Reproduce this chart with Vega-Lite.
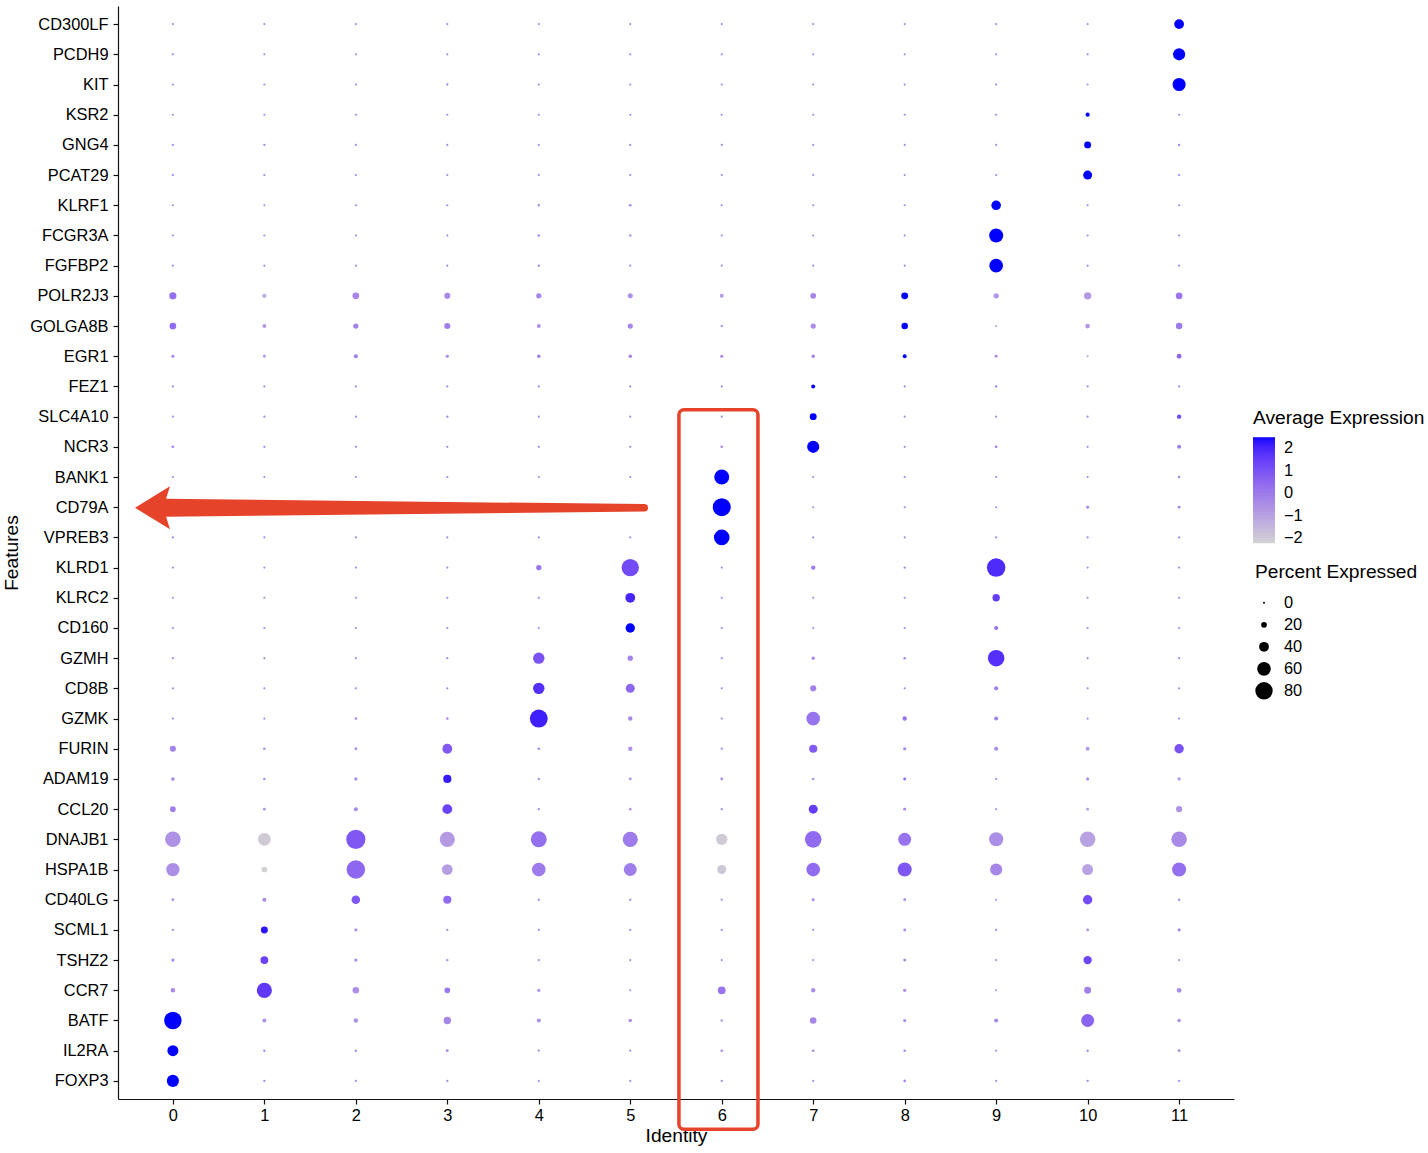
{
"$schema":"https://vega.github.io/schema/vega-lite/v6.json",
"autosize":{"type":"none"},
"padding":{"left":118,"top":6,"right":194,"bottom":54},
"width":1116,"height":1093,
"background":"white",
"config":{"font":"Liberation Sans","view":{"stroke":null},
"axis":{"domainColor":"#111","domainWidth":1.2,"tickColor":"#111","tickWidth":1.2,"tickSize":5,"labelColor":"#000","labelFontSize":16.4,"labelFont":"Liberation Sans","titleFont":"Liberation Sans","titleFontSize":19.2,"titleFontWeight":"normal","titleColor":"#000","grid":false,"labelPadding":4},
"legend":{"titleFont":"Liberation Sans","titleFontSize":19.2,"titleFontWeight":"normal","titleColor":"#000","labelFont":"Liberation Sans","labelFontSize":16.4,"labelColor":"#000"}},
"datasets":{
"dots":[
{"gene":"CD300LF","cluster":0,"pct":2,"avg":-0.3},{"gene":"CD300LF","cluster":1,"pct":2,"avg":-0.3},{"gene":"CD300LF","cluster":2,"pct":2,"avg":-0.3},{"gene":"CD300LF","cluster":3,"pct":2,"avg":-0.3},{"gene":"CD300LF","cluster":4,"pct":2,"avg":-0.3},{"gene":"CD300LF","cluster":5,"pct":2,"avg":-0.3},{"gene":"CD300LF","cluster":6,"pct":2,"avg":-0.3},{"gene":"CD300LF","cluster":7,"pct":2,"avg":-0.3},{"gene":"CD300LF","cluster":8,"pct":2,"avg":-0.3},{"gene":"CD300LF","cluster":9,"pct":2,"avg":-0.3},{"gene":"CD300LF","cluster":10,"pct":2,"avg":-0.3},{"gene":"CD300LF","cluster":11,"pct":40,"avg":2.5},
{"gene":"PCDH9","cluster":0,"pct":2,"avg":-0.3},{"gene":"PCDH9","cluster":1,"pct":2,"avg":-0.3},{"gene":"PCDH9","cluster":2,"pct":2,"avg":-0.3},{"gene":"PCDH9","cluster":3,"pct":2,"avg":-0.3},{"gene":"PCDH9","cluster":4,"pct":2,"avg":-0.3},{"gene":"PCDH9","cluster":5,"pct":2,"avg":-0.3},{"gene":"PCDH9","cluster":6,"pct":2,"avg":-0.3},{"gene":"PCDH9","cluster":7,"pct":2,"avg":-0.3},{"gene":"PCDH9","cluster":8,"pct":2,"avg":-0.3},{"gene":"PCDH9","cluster":9,"pct":2,"avg":-0.3},{"gene":"PCDH9","cluster":10,"pct":2,"avg":-0.3},{"gene":"PCDH9","cluster":11,"pct":52,"avg":2.5},
{"gene":"KIT","cluster":0,"pct":2,"avg":-0.3},{"gene":"KIT","cluster":1,"pct":2,"avg":-0.3},{"gene":"KIT","cluster":2,"pct":2,"avg":-0.3},{"gene":"KIT","cluster":3,"pct":3,"avg":-0.3},{"gene":"KIT","cluster":4,"pct":2,"avg":-0.3},{"gene":"KIT","cluster":5,"pct":2,"avg":-0.3},{"gene":"KIT","cluster":6,"pct":2,"avg":-0.3},{"gene":"KIT","cluster":7,"pct":2,"avg":-0.3},{"gene":"KIT","cluster":8,"pct":2,"avg":-0.3},{"gene":"KIT","cluster":9,"pct":2,"avg":-0.3},{"gene":"KIT","cluster":10,"pct":2,"avg":-0.3},{"gene":"KIT","cluster":11,"pct":57,"avg":2.5},
{"gene":"KSR2","cluster":0,"pct":2,"avg":-0.3},{"gene":"KSR2","cluster":1,"pct":2,"avg":-0.3},{"gene":"KSR2","cluster":2,"pct":2,"avg":-0.3},{"gene":"KSR2","cluster":3,"pct":2,"avg":-0.3},{"gene":"KSR2","cluster":4,"pct":2,"avg":-0.3},{"gene":"KSR2","cluster":5,"pct":2,"avg":-0.3},{"gene":"KSR2","cluster":6,"pct":2,"avg":-0.3},{"gene":"KSR2","cluster":7,"pct":2,"avg":-0.3},{"gene":"KSR2","cluster":8,"pct":2,"avg":-0.3},{"gene":"KSR2","cluster":9,"pct":2,"avg":-0.3},{"gene":"KSR2","cluster":10,"pct":13,"avg":2.5},{"gene":"KSR2","cluster":11,"pct":2,"avg":-0.3},
{"gene":"GNG4","cluster":0,"pct":2,"avg":-0.3},{"gene":"GNG4","cluster":1,"pct":2,"avg":-0.3},{"gene":"GNG4","cluster":2,"pct":2,"avg":-0.3},{"gene":"GNG4","cluster":3,"pct":2,"avg":-0.3},{"gene":"GNG4","cluster":4,"pct":2,"avg":-0.3},{"gene":"GNG4","cluster":5,"pct":2,"avg":-0.3},{"gene":"GNG4","cluster":6,"pct":2,"avg":-0.3},{"gene":"GNG4","cluster":7,"pct":2,"avg":-0.3},{"gene":"GNG4","cluster":8,"pct":2,"avg":-0.3},{"gene":"GNG4","cluster":9,"pct":2,"avg":-0.3},{"gene":"GNG4","cluster":10,"pct":26,"avg":2.5},{"gene":"GNG4","cluster":11,"pct":4,"avg":-0.3},
{"gene":"PCAT29","cluster":0,"pct":2,"avg":-0.3},{"gene":"PCAT29","cluster":1,"pct":2,"avg":-0.3},{"gene":"PCAT29","cluster":2,"pct":2,"avg":-0.3},{"gene":"PCAT29","cluster":3,"pct":2,"avg":-0.3},{"gene":"PCAT29","cluster":4,"pct":3,"avg":-0.3},{"gene":"PCAT29","cluster":5,"pct":3,"avg":-0.3},{"gene":"PCAT29","cluster":6,"pct":2,"avg":-0.3},{"gene":"PCAT29","cluster":7,"pct":2,"avg":-0.3},{"gene":"PCAT29","cluster":8,"pct":2,"avg":-0.3},{"gene":"PCAT29","cluster":9,"pct":2,"avg":-0.3},{"gene":"PCAT29","cluster":10,"pct":36,"avg":2.5},{"gene":"PCAT29","cluster":11,"pct":2,"avg":-0.3},
{"gene":"KLRF1","cluster":0,"pct":2,"avg":-0.3},{"gene":"KLRF1","cluster":1,"pct":2,"avg":-0.3},{"gene":"KLRF1","cluster":2,"pct":2,"avg":-0.3},{"gene":"KLRF1","cluster":3,"pct":2,"avg":-0.3},{"gene":"KLRF1","cluster":4,"pct":4,"avg":-0.3},{"gene":"KLRF1","cluster":5,"pct":5,"avg":-0.2},{"gene":"KLRF1","cluster":6,"pct":2,"avg":-0.3},{"gene":"KLRF1","cluster":7,"pct":2,"avg":-0.3},{"gene":"KLRF1","cluster":8,"pct":2,"avg":-0.3},{"gene":"KLRF1","cluster":9,"pct":39,"avg":2.5},{"gene":"KLRF1","cluster":10,"pct":2,"avg":-0.3},{"gene":"KLRF1","cluster":11,"pct":2,"avg":-0.3},
{"gene":"FCGR3A","cluster":0,"pct":2,"avg":-0.3},{"gene":"FCGR3A","cluster":1,"pct":2,"avg":-0.3},{"gene":"FCGR3A","cluster":2,"pct":2,"avg":-0.3},{"gene":"FCGR3A","cluster":3,"pct":2,"avg":-0.3},{"gene":"FCGR3A","cluster":4,"pct":5,"avg":-0.3},{"gene":"FCGR3A","cluster":5,"pct":4,"avg":-0.3},{"gene":"FCGR3A","cluster":6,"pct":2,"avg":-0.3},{"gene":"FCGR3A","cluster":7,"pct":2,"avg":-0.3},{"gene":"FCGR3A","cluster":8,"pct":2,"avg":-0.3},{"gene":"FCGR3A","cluster":9,"pct":62,"avg":2.5},{"gene":"FCGR3A","cluster":10,"pct":2,"avg":-0.3},{"gene":"FCGR3A","cluster":11,"pct":2,"avg":-0.3},
{"gene":"FGFBP2","cluster":0,"pct":2,"avg":-0.3},{"gene":"FGFBP2","cluster":1,"pct":2,"avg":-0.3},{"gene":"FGFBP2","cluster":2,"pct":2,"avg":-0.3},{"gene":"FGFBP2","cluster":3,"pct":2,"avg":-0.3},{"gene":"FGFBP2","cluster":4,"pct":4,"avg":-0.3},{"gene":"FGFBP2","cluster":5,"pct":2,"avg":-0.3},{"gene":"FGFBP2","cluster":6,"pct":2,"avg":-0.3},{"gene":"FGFBP2","cluster":7,"pct":2,"avg":-0.3},{"gene":"FGFBP2","cluster":8,"pct":2,"avg":-0.3},{"gene":"FGFBP2","cluster":9,"pct":60,"avg":2.5},{"gene":"FGFBP2","cluster":10,"pct":2,"avg":-0.3},{"gene":"FGFBP2","cluster":11,"pct":2,"avg":-0.3},
{"gene":"POLR2J3","cluster":0,"pct":27,"avg":0.3},{"gene":"POLR2J3","cluster":1,"pct":14,"avg":-1.3},{"gene":"POLR2J3","cluster":2,"pct":25,"avg":-0.3},{"gene":"POLR2J3","cluster":3,"pct":22,"avg":-0.4},{"gene":"POLR2J3","cluster":4,"pct":18,"avg":-0.3},{"gene":"POLR2J3","cluster":5,"pct":17,"avg":-0.6},{"gene":"POLR2J3","cluster":6,"pct":12,"avg":-0.8},{"gene":"POLR2J3","cluster":7,"pct":20,"avg":-0.3},{"gene":"POLR2J3","cluster":8,"pct":26,"avg":2.5},{"gene":"POLR2J3","cluster":9,"pct":18,"avg":-0.7},{"gene":"POLR2J3","cluster":10,"pct":28,"avg":-0.8},{"gene":"POLR2J3","cluster":11,"pct":25,"avg":0.1},
{"gene":"GOLGA8B","cluster":0,"pct":25,"avg":0.4},{"gene":"GOLGA8B","cluster":1,"pct":12,"avg":-0.8},{"gene":"GOLGA8B","cluster":2,"pct":18,"avg":-0.2},{"gene":"GOLGA8B","cluster":3,"pct":22,"avg":-0.1},{"gene":"GOLGA8B","cluster":4,"pct":12,"avg":-0.6},{"gene":"GOLGA8B","cluster":5,"pct":18,"avg":-0.3},{"gene":"GOLGA8B","cluster":6,"pct":4,"avg":-0.8},{"gene":"GOLGA8B","cluster":7,"pct":18,"avg":-0.5},{"gene":"GOLGA8B","cluster":8,"pct":24,"avg":2.5},{"gene":"GOLGA8B","cluster":9,"pct":2,"avg":-0.7},{"gene":"GOLGA8B","cluster":10,"pct":16,"avg":-0.8},{"gene":"GOLGA8B","cluster":11,"pct":24,"avg":0.0},
{"gene":"EGR1","cluster":0,"pct":8,"avg":-0.3},{"gene":"EGR1","cluster":1,"pct":6,"avg":-0.6},{"gene":"EGR1","cluster":2,"pct":12,"avg":0.0},{"gene":"EGR1","cluster":3,"pct":8,"avg":-0.4},{"gene":"EGR1","cluster":4,"pct":10,"avg":-0.2},{"gene":"EGR1","cluster":5,"pct":10,"avg":-0.2},{"gene":"EGR1","cluster":6,"pct":8,"avg":-0.3},{"gene":"EGR1","cluster":7,"pct":9,"avg":-0.2},{"gene":"EGR1","cluster":8,"pct":12,"avg":2.5},{"gene":"EGR1","cluster":9,"pct":7,"avg":-0.4},{"gene":"EGR1","cluster":10,"pct":2,"avg":-1.0},{"gene":"EGR1","cluster":11,"pct":16,"avg":0.5},
{"gene":"FEZ1","cluster":0,"pct":2,"avg":-0.3},{"gene":"FEZ1","cluster":1,"pct":2,"avg":-0.3},{"gene":"FEZ1","cluster":2,"pct":2,"avg":-0.3},{"gene":"FEZ1","cluster":3,"pct":2,"avg":-0.3},{"gene":"FEZ1","cluster":4,"pct":2,"avg":-0.3},{"gene":"FEZ1","cluster":5,"pct":2,"avg":-0.3},{"gene":"FEZ1","cluster":6,"pct":2,"avg":-0.3},{"gene":"FEZ1","cluster":7,"pct":12,"avg":2.5},{"gene":"FEZ1","cluster":8,"pct":2,"avg":-0.3},{"gene":"FEZ1","cluster":9,"pct":4,"avg":-0.3},{"gene":"FEZ1","cluster":10,"pct":2,"avg":-0.3},{"gene":"FEZ1","cluster":11,"pct":2,"avg":-0.3},
{"gene":"SLC4A10","cluster":0,"pct":2,"avg":-0.3},{"gene":"SLC4A10","cluster":1,"pct":2,"avg":-0.3},{"gene":"SLC4A10","cluster":2,"pct":2,"avg":-0.3},{"gene":"SLC4A10","cluster":3,"pct":4,"avg":-0.3},{"gene":"SLC4A10","cluster":4,"pct":2,"avg":-0.3},{"gene":"SLC4A10","cluster":5,"pct":2,"avg":-0.3},{"gene":"SLC4A10","cluster":6,"pct":2,"avg":-0.3},{"gene":"SLC4A10","cluster":7,"pct":26,"avg":2.5},{"gene":"SLC4A10","cluster":8,"pct":2,"avg":-0.3},{"gene":"SLC4A10","cluster":9,"pct":2,"avg":-0.3},{"gene":"SLC4A10","cluster":10,"pct":2,"avg":-0.3},{"gene":"SLC4A10","cluster":11,"pct":14,"avg":1.2},
{"gene":"NCR3","cluster":0,"pct":5,"avg":-0.2},{"gene":"NCR3","cluster":1,"pct":3,"avg":-0.3},{"gene":"NCR3","cluster":2,"pct":3,"avg":-0.3},{"gene":"NCR3","cluster":3,"pct":3,"avg":-0.3},{"gene":"NCR3","cluster":4,"pct":3,"avg":-0.3},{"gene":"NCR3","cluster":5,"pct":3,"avg":-0.3},{"gene":"NCR3","cluster":6,"pct":5,"avg":-0.3},{"gene":"NCR3","cluster":7,"pct":52,"avg":2.5},{"gene":"NCR3","cluster":8,"pct":2,"avg":-0.3},{"gene":"NCR3","cluster":9,"pct":6,"avg":-0.2},{"gene":"NCR3","cluster":10,"pct":2,"avg":-0.3},{"gene":"NCR3","cluster":11,"pct":12,"avg":-0.1},
{"gene":"BANK1","cluster":0,"pct":2,"avg":-0.3},{"gene":"BANK1","cluster":1,"pct":2,"avg":-0.3},{"gene":"BANK1","cluster":2,"pct":2,"avg":-0.3},{"gene":"BANK1","cluster":3,"pct":2,"avg":-0.3},{"gene":"BANK1","cluster":4,"pct":2,"avg":-0.3},{"gene":"BANK1","cluster":5,"pct":2,"avg":-0.3},{"gene":"BANK1","cluster":6,"pct":67,"avg":2.5},{"gene":"BANK1","cluster":7,"pct":2,"avg":-0.3},{"gene":"BANK1","cluster":8,"pct":2,"avg":-0.3},{"gene":"BANK1","cluster":9,"pct":2,"avg":-0.3},{"gene":"BANK1","cluster":10,"pct":2,"avg":-0.3},{"gene":"BANK1","cluster":11,"pct":4,"avg":-0.3},
{"gene":"CD79A","cluster":0,"pct":2,"avg":-0.3},{"gene":"CD79A","cluster":1,"pct":2,"avg":-0.3},{"gene":"CD79A","cluster":2,"pct":2,"avg":-0.3},{"gene":"CD79A","cluster":3,"pct":2,"avg":-0.3},{"gene":"CD79A","cluster":4,"pct":2,"avg":-0.3},{"gene":"CD79A","cluster":5,"pct":2,"avg":-0.3},{"gene":"CD79A","cluster":6,"pct":83,"avg":2.5},{"gene":"CD79A","cluster":7,"pct":2,"avg":-0.3},{"gene":"CD79A","cluster":8,"pct":2,"avg":-0.3},{"gene":"CD79A","cluster":9,"pct":2,"avg":-0.3},{"gene":"CD79A","cluster":10,"pct":7,"avg":-0.2},{"gene":"CD79A","cluster":11,"pct":6,"avg":-0.2},
{"gene":"VPREB3","cluster":0,"pct":2,"avg":-0.3},{"gene":"VPREB3","cluster":1,"pct":2,"avg":-0.3},{"gene":"VPREB3","cluster":2,"pct":2,"avg":-0.3},{"gene":"VPREB3","cluster":3,"pct":2,"avg":-0.3},{"gene":"VPREB3","cluster":4,"pct":2,"avg":-0.3},{"gene":"VPREB3","cluster":5,"pct":2,"avg":-0.3},{"gene":"VPREB3","cluster":6,"pct":70,"avg":2.5},{"gene":"VPREB3","cluster":7,"pct":2,"avg":-0.3},{"gene":"VPREB3","cluster":8,"pct":2,"avg":-0.3},{"gene":"VPREB3","cluster":9,"pct":2,"avg":-0.3},{"gene":"VPREB3","cluster":10,"pct":2,"avg":-0.3},{"gene":"VPREB3","cluster":11,"pct":2,"avg":-0.3},
{"gene":"KLRD1","cluster":0,"pct":2,"avg":-0.3},{"gene":"KLRD1","cluster":1,"pct":2,"avg":-0.3},{"gene":"KLRD1","cluster":2,"pct":2,"avg":-0.3},{"gene":"KLRD1","cluster":3,"pct":2,"avg":-0.3},{"gene":"KLRD1","cluster":4,"pct":18,"avg":0.2},{"gene":"KLRD1","cluster":5,"pct":80,"avg":1.2},{"gene":"KLRD1","cluster":6,"pct":2,"avg":-0.3},{"gene":"KLRD1","cluster":7,"pct":14,"avg":-0.1},{"gene":"KLRD1","cluster":8,"pct":4,"avg":-0.3},{"gene":"KLRD1","cluster":9,"pct":86,"avg":1.9},{"gene":"KLRD1","cluster":10,"pct":2,"avg":-0.3},{"gene":"KLRD1","cluster":11,"pct":2,"avg":-0.3},
{"gene":"KLRC2","cluster":0,"pct":2,"avg":-0.3},{"gene":"KLRC2","cluster":1,"pct":2,"avg":-0.3},{"gene":"KLRC2","cluster":2,"pct":2,"avg":-0.3},{"gene":"KLRC2","cluster":3,"pct":2,"avg":-0.3},{"gene":"KLRC2","cluster":4,"pct":3,"avg":-0.3},{"gene":"KLRC2","cluster":5,"pct":40,"avg":2.0},{"gene":"KLRC2","cluster":6,"pct":2,"avg":-0.3},{"gene":"KLRC2","cluster":7,"pct":2,"avg":-0.3},{"gene":"KLRC2","cluster":8,"pct":2,"avg":-0.3},{"gene":"KLRC2","cluster":9,"pct":28,"avg":1.5},{"gene":"KLRC2","cluster":10,"pct":2,"avg":-0.3},{"gene":"KLRC2","cluster":11,"pct":2,"avg":-0.3},
{"gene":"CD160","cluster":0,"pct":2,"avg":-0.3},{"gene":"CD160","cluster":1,"pct":2,"avg":-0.3},{"gene":"CD160","cluster":2,"pct":2,"avg":-0.3},{"gene":"CD160","cluster":3,"pct":2,"avg":-0.3},{"gene":"CD160","cluster":4,"pct":2,"avg":-0.3},{"gene":"CD160","cluster":5,"pct":38,"avg":2.5},{"gene":"CD160","cluster":6,"pct":2,"avg":-0.3},{"gene":"CD160","cluster":7,"pct":2,"avg":-0.3},{"gene":"CD160","cluster":8,"pct":2,"avg":-0.3},{"gene":"CD160","cluster":9,"pct":12,"avg":0.3},{"gene":"CD160","cluster":10,"pct":2,"avg":-0.3},{"gene":"CD160","cluster":11,"pct":2,"avg":-0.3},
{"gene":"GZMH","cluster":0,"pct":2,"avg":-0.3},{"gene":"GZMH","cluster":1,"pct":2,"avg":-0.3},{"gene":"GZMH","cluster":2,"pct":2,"avg":-0.3},{"gene":"GZMH","cluster":3,"pct":2,"avg":-0.3},{"gene":"GZMH","cluster":4,"pct":48,"avg":1.0},{"gene":"GZMH","cluster":5,"pct":18,"avg":-0.2},{"gene":"GZMH","cluster":6,"pct":2,"avg":-0.3},{"gene":"GZMH","cluster":7,"pct":8,"avg":-0.2},{"gene":"GZMH","cluster":8,"pct":5,"avg":-0.3},{"gene":"GZMH","cluster":9,"pct":75,"avg":1.8},{"gene":"GZMH","cluster":10,"pct":2,"avg":-0.3},{"gene":"GZMH","cluster":11,"pct":2,"avg":-0.3},
{"gene":"CD8B","cluster":0,"pct":2,"avg":-0.3},{"gene":"CD8B","cluster":1,"pct":2,"avg":-0.3},{"gene":"CD8B","cluster":2,"pct":2,"avg":-0.3},{"gene":"CD8B","cluster":3,"pct":2,"avg":-0.3},{"gene":"CD8B","cluster":4,"pct":48,"avg":1.8},{"gene":"CD8B","cluster":5,"pct":36,"avg":0.5},{"gene":"CD8B","cluster":6,"pct":2,"avg":-0.3},{"gene":"CD8B","cluster":7,"pct":22,"avg":-0.2},{"gene":"CD8B","cluster":8,"pct":2,"avg":-0.3},{"gene":"CD8B","cluster":9,"pct":13,"avg":-0.2},{"gene":"CD8B","cluster":10,"pct":2,"avg":-0.3},{"gene":"CD8B","cluster":11,"pct":2,"avg":-0.3},
{"gene":"GZMK","cluster":0,"pct":2,"avg":-0.3},{"gene":"GZMK","cluster":1,"pct":2,"avg":-0.3},{"gene":"GZMK","cluster":2,"pct":5,"avg":-0.3},{"gene":"GZMK","cluster":3,"pct":5,"avg":-0.3},{"gene":"GZMK","cluster":4,"pct":83,"avg":2.1},{"gene":"GZMK","cluster":5,"pct":14,"avg":-0.3},{"gene":"GZMK","cluster":6,"pct":2,"avg":-0.3},{"gene":"GZMK","cluster":7,"pct":60,"avg":0.2},{"gene":"GZMK","cluster":8,"pct":14,"avg":0.1},{"gene":"GZMK","cluster":9,"pct":12,"avg":-0.2},{"gene":"GZMK","cluster":10,"pct":2,"avg":-0.3},{"gene":"GZMK","cluster":11,"pct":2,"avg":-0.3},
{"gene":"FURIN","cluster":0,"pct":22,"avg":-0.2},{"gene":"FURIN","cluster":1,"pct":5,"avg":-0.5},{"gene":"FURIN","cluster":2,"pct":6,"avg":-0.5},{"gene":"FURIN","cluster":3,"pct":40,"avg":0.8},{"gene":"FURIN","cluster":4,"pct":5,"avg":-0.5},{"gene":"FURIN","cluster":5,"pct":14,"avg":-0.6},{"gene":"FURIN","cluster":6,"pct":3,"avg":-0.5},{"gene":"FURIN","cluster":7,"pct":32,"avg":0.8},{"gene":"FURIN","cluster":8,"pct":8,"avg":-0.3},{"gene":"FURIN","cluster":9,"pct":13,"avg":-0.5},{"gene":"FURIN","cluster":10,"pct":12,"avg":-0.8},{"gene":"FURIN","cluster":11,"pct":38,"avg":1.0},
{"gene":"ADAM19","cluster":0,"pct":10,"avg":-0.3},{"gene":"ADAM19","cluster":1,"pct":5,"avg":-0.5},{"gene":"ADAM19","cluster":2,"pct":8,"avg":-0.4},{"gene":"ADAM19","cluster":3,"pct":32,"avg":2.2},{"gene":"ADAM19","cluster":4,"pct":4,"avg":-0.5},{"gene":"ADAM19","cluster":5,"pct":6,"avg":-0.6},{"gene":"ADAM19","cluster":6,"pct":6,"avg":-0.3},{"gene":"ADAM19","cluster":7,"pct":5,"avg":-0.5},{"gene":"ADAM19","cluster":8,"pct":7,"avg":0.3},{"gene":"ADAM19","cluster":9,"pct":3,"avg":-0.5},{"gene":"ADAM19","cluster":10,"pct":8,"avg":-0.5},{"gene":"ADAM19","cluster":11,"pct":8,"avg":-0.7},
{"gene":"CCL20","cluster":0,"pct":20,"avg":-0.1},{"gene":"CCL20","cluster":1,"pct":6,"avg":-0.6},{"gene":"CCL20","cluster":2,"pct":12,"avg":-0.4},{"gene":"CCL20","cluster":3,"pct":40,"avg":1.4},{"gene":"CCL20","cluster":4,"pct":4,"avg":-0.5},{"gene":"CCL20","cluster":5,"pct":5,"avg":-0.6},{"gene":"CCL20","cluster":6,"pct":4,"avg":-0.6},{"gene":"CCL20","cluster":7,"pct":36,"avg":1.5},{"gene":"CCL20","cluster":8,"pct":7,"avg":-0.3},{"gene":"CCL20","cluster":9,"pct":3,"avg":-0.8},{"gene":"CCL20","cluster":10,"pct":5,"avg":-0.6},{"gene":"CCL20","cluster":11,"pct":22,"avg":-0.6},
{"gene":"DNAJB1","cluster":0,"pct":70,"avg":-0.6},{"gene":"DNAJB1","cluster":1,"pct":55,"avg":-2.0},{"gene":"DNAJB1","cluster":2,"pct":90,"avg":0.9},{"gene":"DNAJB1","cluster":3,"pct":68,"avg":-0.8},{"gene":"DNAJB1","cluster":4,"pct":72,"avg":0.3},{"gene":"DNAJB1","cluster":5,"pct":68,"avg":0.0},{"gene":"DNAJB1","cluster":6,"pct":48,"avg":-2.0},{"gene":"DNAJB1","cluster":7,"pct":76,"avg":0.4},{"gene":"DNAJB1","cluster":8,"pct":56,"avg":0.2},{"gene":"DNAJB1","cluster":9,"pct":62,"avg":-0.5},{"gene":"DNAJB1","cluster":10,"pct":70,"avg":-1.0},{"gene":"DNAJB1","cluster":11,"pct":70,"avg":-0.4},
{"gene":"HSPA1B","cluster":0,"pct":58,"avg":-0.5},{"gene":"HSPA1B","cluster":1,"pct":20,"avg":-2.2},{"gene":"HSPA1B","cluster":2,"pct":86,"avg":0.5},{"gene":"HSPA1B","cluster":3,"pct":45,"avg":-0.9},{"gene":"HSPA1B","cluster":4,"pct":60,"avg":0.0},{"gene":"HSPA1B","cluster":5,"pct":56,"avg":-0.1},{"gene":"HSPA1B","cluster":6,"pct":36,"avg":-1.9},{"gene":"HSPA1B","cluster":7,"pct":60,"avg":0.4},{"gene":"HSPA1B","cluster":8,"pct":62,"avg":0.9},{"gene":"HSPA1B","cluster":9,"pct":52,"avg":-0.3},{"gene":"HSPA1B","cluster":10,"pct":46,"avg":-1.0},{"gene":"HSPA1B","cluster":11,"pct":62,"avg":0.3},
{"gene":"CD40LG","cluster":0,"pct":6,"avg":-0.5},{"gene":"CD40LG","cluster":1,"pct":12,"avg":-0.4},{"gene":"CD40LG","cluster":2,"pct":34,"avg":0.9},{"gene":"CD40LG","cluster":3,"pct":32,"avg":0.4},{"gene":"CD40LG","cluster":4,"pct":4,"avg":-0.6},{"gene":"CD40LG","cluster":5,"pct":4,"avg":-0.6},{"gene":"CD40LG","cluster":6,"pct":3,"avg":-0.5},{"gene":"CD40LG","cluster":7,"pct":7,"avg":-0.3},{"gene":"CD40LG","cluster":8,"pct":6,"avg":-0.3},{"gene":"CD40LG","cluster":9,"pct":2,"avg":-0.5},{"gene":"CD40LG","cluster":10,"pct":38,"avg":1.2},{"gene":"CD40LG","cluster":11,"pct":4,"avg":-0.5},
{"gene":"SCML1","cluster":0,"pct":3,"avg":-0.4},{"gene":"SCML1","cluster":1,"pct":26,"avg":2.3},{"gene":"SCML1","cluster":2,"pct":7,"avg":-0.3},{"gene":"SCML1","cluster":3,"pct":2,"avg":-0.4},{"gene":"SCML1","cluster":4,"pct":3,"avg":-0.4},{"gene":"SCML1","cluster":5,"pct":3,"avg":-0.4},{"gene":"SCML1","cluster":6,"pct":3,"avg":-0.4},{"gene":"SCML1","cluster":7,"pct":2,"avg":-0.4},{"gene":"SCML1","cluster":8,"pct":6,"avg":-0.3},{"gene":"SCML1","cluster":9,"pct":3,"avg":-0.4},{"gene":"SCML1","cluster":10,"pct":5,"avg":-0.3},{"gene":"SCML1","cluster":11,"pct":7,"avg":-0.1},
{"gene":"TSHZ2","cluster":0,"pct":8,"avg":-0.3},{"gene":"TSHZ2","cluster":1,"pct":30,"avg":1.4},{"gene":"TSHZ2","cluster":2,"pct":8,"avg":-0.4},{"gene":"TSHZ2","cluster":3,"pct":4,"avg":-0.4},{"gene":"TSHZ2","cluster":4,"pct":3,"avg":-0.4},{"gene":"TSHZ2","cluster":5,"pct":3,"avg":-0.4},{"gene":"TSHZ2","cluster":6,"pct":3,"avg":-0.4},{"gene":"TSHZ2","cluster":7,"pct":2,"avg":-0.4},{"gene":"TSHZ2","cluster":8,"pct":7,"avg":-0.2},{"gene":"TSHZ2","cluster":9,"pct":2,"avg":-0.4},{"gene":"TSHZ2","cluster":10,"pct":33,"avg":1.3},{"gene":"TSHZ2","cluster":11,"pct":3,"avg":-0.4},
{"gene":"CCR7","cluster":0,"pct":15,"avg":-0.4},{"gene":"CCR7","cluster":1,"pct":68,"avg":1.6},{"gene":"CCR7","cluster":2,"pct":24,"avg":-0.5},{"gene":"CCR7","cluster":3,"pct":20,"avg":0.1},{"gene":"CCR7","cluster":4,"pct":8,"avg":-0.5},{"gene":"CCR7","cluster":5,"pct":3,"avg":-0.5},{"gene":"CCR7","cluster":6,"pct":30,"avg":0.2},{"gene":"CCR7","cluster":7,"pct":14,"avg":-0.5},{"gene":"CCR7","cluster":8,"pct":8,"avg":-0.4},{"gene":"CCR7","cluster":9,"pct":2,"avg":-0.5},{"gene":"CCR7","cluster":10,"pct":26,"avg":-0.2},{"gene":"CCR7","cluster":11,"pct":16,"avg":-0.5},
{"gene":"BATF","cluster":0,"pct":80,"avg":2.5},{"gene":"BATF","cluster":1,"pct":12,"avg":-0.6},{"gene":"BATF","cluster":2,"pct":14,"avg":-0.6},{"gene":"BATF","cluster":3,"pct":28,"avg":-0.3},{"gene":"BATF","cluster":4,"pct":12,"avg":-0.5},{"gene":"BATF","cluster":5,"pct":10,"avg":-0.6},{"gene":"BATF","cluster":6,"pct":4,"avg":-0.6},{"gene":"BATF","cluster":7,"pct":24,"avg":-0.3},{"gene":"BATF","cluster":8,"pct":8,"avg":-0.4},{"gene":"BATF","cluster":9,"pct":12,"avg":-0.4},{"gene":"BATF","cluster":10,"pct":56,"avg":0.6},{"gene":"BATF","cluster":11,"pct":10,"avg":-0.6},
{"gene":"IL2RA","cluster":0,"pct":46,"avg":2.5},{"gene":"IL2RA","cluster":1,"pct":4,"avg":-0.4},{"gene":"IL2RA","cluster":2,"pct":4,"avg":-0.4},{"gene":"IL2RA","cluster":3,"pct":6,"avg":-0.4},{"gene":"IL2RA","cluster":4,"pct":3,"avg":-0.4},{"gene":"IL2RA","cluster":5,"pct":3,"avg":-0.4},{"gene":"IL2RA","cluster":6,"pct":5,"avg":-0.3},{"gene":"IL2RA","cluster":7,"pct":5,"avg":-0.3},{"gene":"IL2RA","cluster":8,"pct":5,"avg":-0.3},{"gene":"IL2RA","cluster":9,"pct":2,"avg":-0.4},{"gene":"IL2RA","cluster":10,"pct":4,"avg":-0.4},{"gene":"IL2RA","cluster":11,"pct":6,"avg":-0.4},
{"gene":"FOXP3","cluster":0,"pct":52,"avg":2.5},{"gene":"FOXP3","cluster":1,"pct":3,"avg":-0.4},{"gene":"FOXP3","cluster":2,"pct":3,"avg":-0.4},{"gene":"FOXP3","cluster":3,"pct":3,"avg":-0.4},{"gene":"FOXP3","cluster":4,"pct":3,"avg":-0.4},{"gene":"FOXP3","cluster":5,"pct":3,"avg":-0.4},{"gene":"FOXP3","cluster":6,"pct":3,"avg":-0.4},{"gene":"FOXP3","cluster":7,"pct":3,"avg":-0.4},{"gene":"FOXP3","cluster":8,"pct":5,"avg":-0.3},{"gene":"FOXP3","cluster":9,"pct":2,"avg":-0.4},{"gene":"FOXP3","cluster":10,"pct":3,"avg":-0.4},{"gene":"FOXP3","cluster":11,"pct":3,"avg":-0.4}
],
"box":[{"cluster":5.532,"cluster_end":6.396,"row":12.77,"row_end":36.6}],
"arrow":[{"cluster":2.39,"row":16.02}]
},
"layer":[
{"data":{"name":"dots"},
 "mark":{"type":"circle","opacity":1},
 "encoding":{
  "x":{"field":"cluster","type":"quantitative","title":"Identity","scale":{"domain":[-0.6,11.6],"nice":false,"zero":false},"axis":{"values":[0,1,2,3,4,5,6,7,8,9,10,11],"format":"d","labelPadding":3,"titlePadding":3}},
  "y":{"field":"gene","type":"nominal","title":"Features","sort":["CD300LF","PCDH9","KIT","KSR2","GNG4","PCAT29","KLRF1","FCGR3A","FGFBP2","POLR2J3","GOLGA8B","EGR1","FEZ1","SLC4A10","NCR3","BANK1","CD79A","VPREB3","KLRD1","KLRC2","CD160","GZMH","CD8B","GZMK","FURIN","ADAM19","CCL20","DNAJB1","HSPA1B","CD40LG","SCML1","TSHZ2","CCR7","BATF","IL2RA","FOXP3"],"scale":{"type":"point","padding":0.6},"axis":{"labelPadding":5,"titlePadding":8}},
  "color":{"field":"avg","type":"quantitative","scale":{"domain":[-2.22,2.49],"range":["#D3D3D3","#0000FF"],"interpolate":"lab"},"legend":{"title":"Average Expression","orient":"none","legendX":1135,"legendY":403,"direction":"vertical","values":[2,1,0,-1,-2],"gradientLength":106,"gradientThickness":22,"gradientStrokeWidth":0,"labelOffset":9,"labelOverlap":false,"titlePadding":9}},
  "size":{"field":"pct","type":"quantitative","scale":{"type":"pow","exponent":1.7,"domain":[0,80],"range":[4,303]},"legend":{"title":"Percent Expressed","orient":"none","legendX":1137,"legendY":557,"values":[0,20,40,60,80],"symbolType":"circle","symbolFillColor":"#000","symbolStrokeWidth":0,"symbolOpacity":1,"clipHeight":21.2,"rowPadding":0,"labelOffset":11,"titlePadding":10}}
 }},
{"data":{"name":"box"},
 "mark":{"type":"rect","filled":false,"color":"#E5442B","strokeWidth":3.5,"cornerRadius":5,"clip":false},
 "encoding":{
  "x":{"field":"cluster","type":"quantitative","title":"Identity","scale":{"domain":[-0.6,11.6],"nice":false,"zero":false}},
  "x2":{"field":"cluster_end"},
  "y":{"field":"row","type":"quantitative","scale":{"domain":[-0.6,35.6],"reverse":true,"nice":false,"zero":false},"axis":null},
  "y2":{"field":"row_end"}
 }},
{"data":{"name":"arrow"},
 "mark":{"type":"point","filled":true,"color":"#E5442B","opacity":1,"strokeWidth":0,"size":263169,"shape":"M -1 0 L -0.8636 -0.084 L -0.879 -0.035 L 0.9856 -0.0144 Q 1 -0.0144 1 0 Q 1 0.0144 0.9856 0.0144 L -0.879 0.035 L -0.8636 0.084 Z"},
 "encoding":{
  "x":{"field":"cluster","type":"quantitative","title":"Identity","scale":{"domain":[-0.6,11.6],"nice":false,"zero":false}},
  "y":{"field":"row","type":"quantitative","scale":{"domain":[-0.6,35.6],"reverse":true,"nice":false,"zero":false},"axis":null}
 }}
],
"resolve":{"scale":{"y":"independent"}}
}
